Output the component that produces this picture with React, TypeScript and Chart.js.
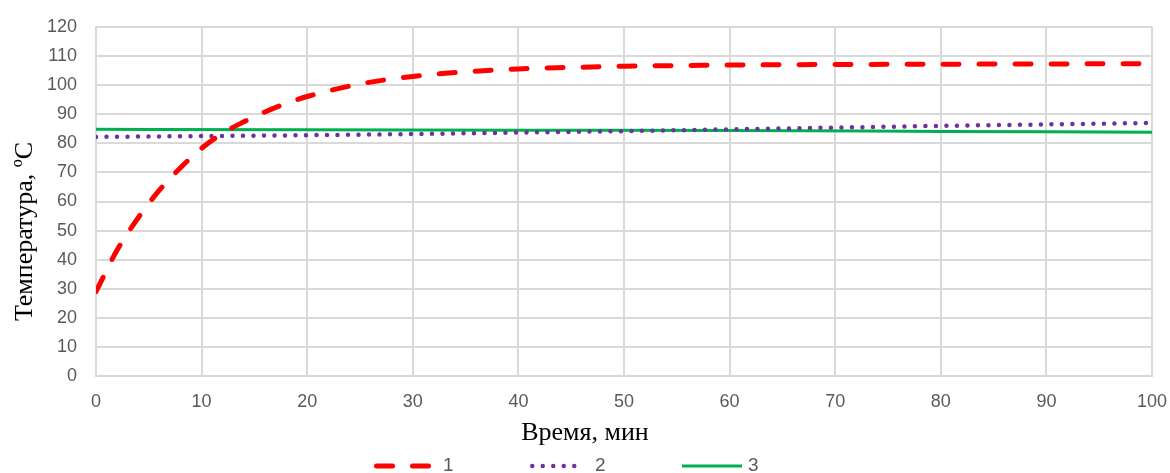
import React, { useEffect, useRef } from "react";
import { Chart, registerables } from "chart.js";

Chart.register(...registerables);

const redTimes = [0, 2, 4, 6, 8, 10, 12, 14, 16, 18, 20, 25, 30, 35, 40, 45, 50, 60, 70, 80, 90, 100];
const redValues = [29, 43.3, 54.4, 63.9, 71.6, 78.3, 83.5, 87.4, 90.8, 93.7, 96.1, 100.4, 103.0, 104.6, 105.6, 106.1, 106.5, 106.9, 107.1, 107.2, 107.3, 107.4];

const purpleTimes = [0, 10, 20, 30, 40, 50, 60, 70, 80, 90, 100];
const purpleValues = [82.2, 82.5, 82.8, 83.2, 83.7, 84.2, 84.8, 85.4, 86.0, 86.5, 87.0];

const greenTimes = [0, 20, 40, 60, 80, 100];
const greenValues = [84.8, 84.7, 84.5, 84.4, 84.1, 83.8];

const seriesLabels = ["1", "2", "3"];
const xTitle = "Время, мин";
const yTitle = "Температура, ºC";

const toPoints = (xs: number[], ys: number[]) => xs.map((x, i) => ({ x, y: ys[i] }));

const TICK_COLOR = "#595959";
const GRID_COLOR = "#d9d9d9";

const overlayPlugin = {
  id: "overlay",
  afterDraw(chart: any) {
    const ctx = chart.ctx as CanvasRenderingContext2D;
    const w = chart.width;
    ctx.save();
    ctx.fillStyle = "#000";
    ctx.font = "26px 'Liberation Serif'";
    ctx.textAlign = "center";
    ctx.textBaseline = "alphabetic";
    ctx.fillText(xTitle, w / 2, 440);
    ctx.save();
    ctx.translate(32, 231.5);
    ctx.rotate(-Math.PI / 2);
    ctx.fillText(yTitle, 0, 0);
    ctx.restore();

    const ly = 466;
    const ds = chart.data.datasets;
    const items = [
      { x0: 374, x1: 431, tx: 443 },
      { x0: 530, x1: 584, tx: 595 },
      { x0: 682, x1: 742, tx: 748 },
    ];
    items.forEach((it, i) => {
      const d = ds[i];
      ctx.save();
      ctx.strokeStyle = d.borderColor;
      ctx.lineWidth = d.borderWidth;
      ctx.lineCap = d.borderCapStyle || "butt";
      ctx.setLineDash(d.borderDash || []);
      ctx.beginPath();
      const inset = d.borderCapStyle === "round" ? d.borderWidth / 2 : 0;
      ctx.moveTo(it.x0 + inset, ly);
      ctx.lineTo(it.x1 - inset + 0.01, ly);
      ctx.stroke();
      ctx.restore();
      ctx.fillStyle = TICK_COLOR;
      ctx.font = "19px 'Liberation Sans'";
      ctx.textAlign = "left";
      ctx.textBaseline = "middle";
      ctx.fillText(seriesLabels[i], it.tx, ly);
    });
    ctx.restore();
  },
};

export default function App() {
  const ref = useRef<HTMLCanvasElement | null>(null);
  useEffect(() => {
    document.body.style.margin = "0";
    if (!ref.current) return;
    const chart = new Chart(ref.current, {
      type: "line",
      data: {
        datasets: [
          {
            label: seriesLabels[0],
            data: toPoints(redTimes, redValues),
            borderColor: "#ff0000",
            borderWidth: 5,
            borderDash: [16, 20],
            borderCapStyle: "round",
            pointRadius: 0,
            cubicInterpolationMode: "monotone",
          } as any,
          {
            label: seriesLabels[1],
            data: toPoints(purpleTimes, purpleValues),
            borderColor: "#7030a0",
            borderWidth: 4.5,
            borderDash: [0, 10.5],
            borderCapStyle: "round",
            pointRadius: 0,
            cubicInterpolationMode: "monotone",
          } as any,
          {
            label: seriesLabels[2],
            data: toPoints(greenTimes, greenValues),
            borderColor: "#00b050",
            borderWidth: 3,
            pointRadius: 0,
            cubicInterpolationMode: "monotone",
          } as any,
        ],
      },
      options: {
        animation: false,
        responsive: false,
        maintainAspectRatio: false,
        layout: { padding: { top: 27, right: 18, bottom: 0, left: 0 } },
        plugins: { legend: { display: false }, tooltip: { enabled: false } },
        scales: {
          x: {
            type: "linear",
            min: 0,
            max: 100,
            afterFit: (s: any) => {
              s.height = 97;
              s.paddingLeft = 0;
              s.paddingRight = 0;
            },
            ticks: {
              stepSize: 10,
              color: TICK_COLOR,
              font: { family: "'Liberation Sans'", size: 18 },
              padding: 15,
              maxRotation: 0,
            },
            grid: { color: GRID_COLOR, lineWidth: 2, drawTicks: false },
            border: { color: GRID_COLOR, width: 2 },
          },
          y: {
            min: 0,
            max: 120,
            afterFit: (s: any) => {
              s.width = 96;
              s.paddingTop = 0;
              s.paddingBottom = 0;
            },
            ticks: {
              stepSize: 10,
              color: TICK_COLOR,
              font: { family: "'Liberation Sans'", size: 18 },
              padding: 19,
            },
            grid: { color: GRID_COLOR, lineWidth: 2, drawTicks: false },
            border: { color: GRID_COLOR, width: 2 },
          },
        },
      },
      plugins: [overlayPlugin],
    });
    return () => chart.destroy();
  }, []);
  return (
    <div style={{ width: 1170, height: 473, background: "#fff" }}>
      <canvas ref={ref} width={1170} height={473} style={{ display: "block" }} />
    </div>
  );
}
